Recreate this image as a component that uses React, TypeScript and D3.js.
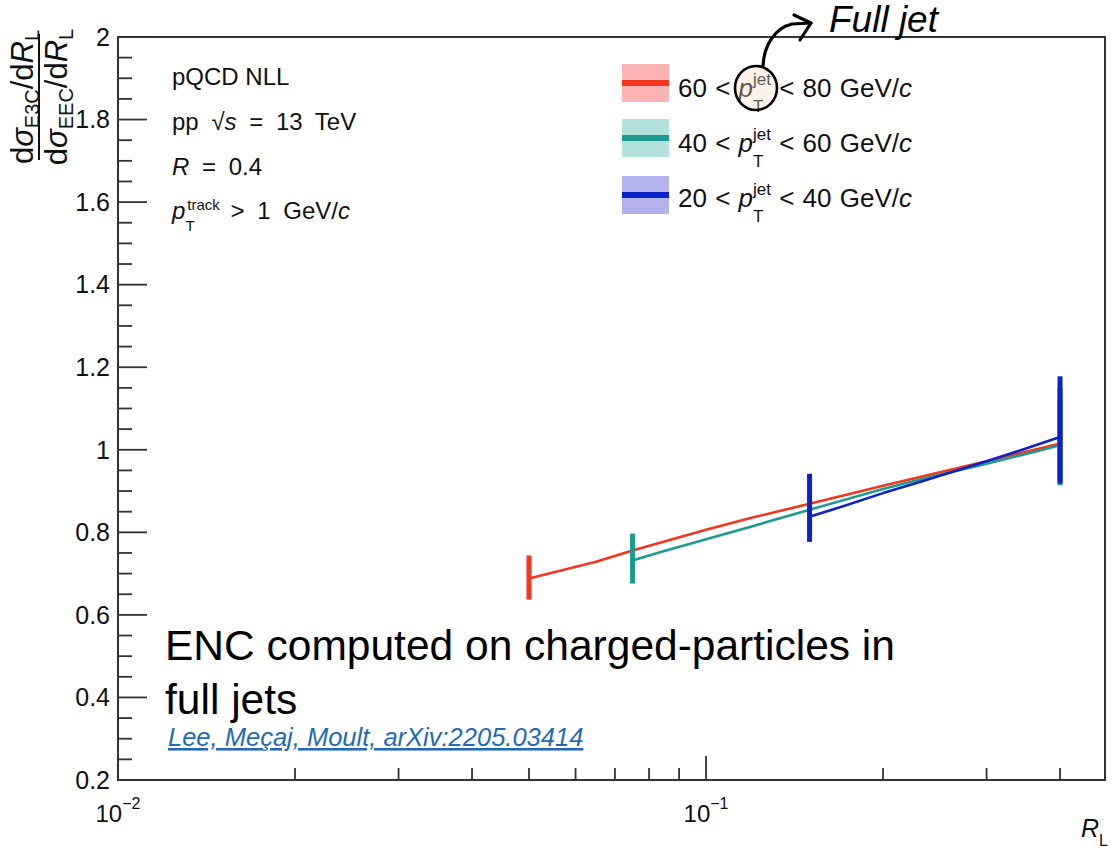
import React from "react";
import * as d3 from "d3";

// ---------- data ----------
const redR = [0.05, 0.065, 0.075, 0.0835, 0.1, 0.12, 0.15, 0.2, 0.231, 0.3, 0.35, 0.4];
const redV = [0.688, 0.729, 0.756, 0.775, 0.806, 0.836, 0.869, 0.913, 0.934, 0.972, 0.995, 1.015];

const tealR = [0.075, 0.0835, 0.1, 0.12, 0.15, 0.2, 0.231, 0.3, 0.35, 0.4];
const tealV = [0.732, 0.752, 0.783, 0.815, 0.855, 0.905, 0.928, 0.966, 0.99, 1.011];

const blueR = [0.15, 0.17, 0.2, 0.231, 0.3, 0.35, 0.4];
const blueV = [0.838, 0.862, 0.895, 0.922, 0.972, 1.003, 1.031];

// uncertainty bars at the first and last point of each curve: [low, high]
const redBars = [[0.637, 0.744], [0.925, 1.12]];
const tealBars = [[0.676, 0.797], [0.914, 1.15]];
const blueBars = [[0.777, 0.942], [0.918, 1.178]];

const legendLo = [60, 40, 20];
const legendHi = [80, 60, 40];

const yMajorLabels = ["0.2", "0.4", "0.6", "0.8", "1", "1.2", "1.4", "1.6", "1.8", "2"];
const xMajorTicks = [0.01, 0.1];
const xMajorExp = ["−2", "−1"];
const xMinorTicks = [0.02, 0.03, 0.04, 0.05, 0.06, 0.07, 0.08, 0.09, 0.2, 0.3, 0.4];

// ---------- styles ----------
const FONT = "'Liberation Sans', Arial, Helvetica, sans-serif";
const AX = "#333";
const RED = "#f3361c";
const TEAL = "#1c9a92";
const BLUE = "#0d22c6";
const RED_BAND = "#fbb3b3";
const TEAL_BAND = "#b3e1dd";
const BLUE_BAND = "#b2b2ec";

const L = 118, R = 1105, T = 37, B = 780;

export default function App() {
  const x = d3.scaleLog().domain([0.01, 0.477]).range([L, R]);
  const y = d3.scaleLinear().domain([0.2, 2]).range([B, T]);

  const yTicks = d3.range(0, 37).map((i) => ({ v: 0.2 + i * 0.05, major: i % 4 === 0 }));

  const line = d3
    .line<[number, number]>()
    .x((d) => x(d[0]))
    .y((d) => y(d[1]));

  const series = [
    { r: redR, v: redV, bars: redBars, color: RED },
    { r: tealR, v: tealV, bars: tealBars, color: TEAL },
    { r: blueR, v: blueV, bars: blueBars, color: BLUE },
  ];

  const legendColors = [
    [RED, RED_BAND],
    [TEAL, TEAL_BAND],
    [BLUE, BLUE_BAND],
  ];
  const legendTop = [64, 119, 176];
  const legendBase = [97, 152, 207];

  const yTitleCx = 97;
  const ws = { wordSpacing: "6px" }; // ROOT-like wide blanks in the info text

  return (
    <svg
      width={1115}
      height={851}
      style={{ position: "absolute", left: 0, top: 0, background: "#fff" }}
      fontFamily={FONT}
    >
      <rect x={0} y={0} width={1115} height={851} fill="#fff" />

      {/* curves */}
      {series.map((s, i) => (
        <g key={i}>
          <path
            d={line(s.r.map((r, j) => [r, s.v[j]] as [number, number])) || ""}
            fill="none"
            stroke={s.color}
            strokeWidth={2.6}
            strokeLinejoin="round"
          />
          {[s.r[0], s.r[s.r.length - 1]].map((r, k) => (
            <line
              key={k}
              x1={x(r)}
              x2={x(r)}
              y1={y(s.bars[k][0])}
              y2={y(s.bars[k][1])}
              stroke={s.color}
              strokeWidth={5}
            />
          ))}
        </g>
      ))}

      {/* frame */}
      <rect x={L} y={T} width={R - L} height={B - T} fill="none" stroke={AX} strokeWidth={2} />

      {/* y ticks */}
      {yTicks.map((t, i) => (
        <line
          key={i}
          x1={L}
          x2={L + (t.major ? 29 : 14)}
          y1={y(t.v)}
          y2={y(t.v)}
          stroke={AX}
          strokeWidth={1.8}
        />
      ))}
      {yMajorLabels.map((lab, i) => (
        <text key={i} x={110} y={y(0.2 + i * 0.2)} dy="0.35em" textAnchor="end" fontSize={25} fill="#111">
          {lab}
        </text>
      ))}

      {/* x ticks */}
      {xMajorTicks.map((t, i) => (
        <g key={i}>
          <line x1={x(t)} x2={x(t)} y1={B} y2={B - 24} stroke={AX} strokeWidth={1.8} />
          <text x={x(t)} y={822} textAnchor="middle" fontSize={24} fill="#111">
            <tspan>10</tspan>
            <tspan fontSize={16} dy={-13}>
              {xMajorExp[i]}
            </tspan>
          </text>
        </g>
      ))}
      {xMinorTicks.map((t, i) => (
        <line key={i} x1={x(t)} x2={x(t)} y1={B} y2={B - 12} stroke={AX} strokeWidth={1.8} />
      ))}

      {/* x title */}
      <text x={1108} y={837} textAnchor="end" fontSize={25} fill="#111">
        <tspan fontStyle="italic">R</tspan>
        <tspan fontSize={16} dy={9}>
          L
        </tspan>
      </text>

      {/* y title */}
      <g transform={`translate(0,${yTitleCx}) rotate(-90)`} fill="#111">
        <text x={0} y={33} textAnchor="middle" fontSize={31}>
          <tspan>d</tspan>
          <tspan fontStyle="italic">σ</tspan>
          <tspan fontSize={20} dy={6}>
            E3C
          </tspan>
          <tspan dy={-6}>/d</tspan>
          <tspan fontStyle="italic">R</tspan>
          <tspan fontSize={20} dy={6}>
            L
          </tspan>
        </text>
        <line x1={-63} x2={63} y1={39} y2={39} stroke="#111" strokeWidth={2} />
        <text x={0} y={67} textAnchor="middle" fontSize={31}>
          <tspan>d</tspan>
          <tspan fontStyle="italic">σ</tspan>
          <tspan fontSize={20} dy={6}>
            EEC
          </tspan>
          <tspan dy={-6}>/d</tspan>
          <tspan fontStyle="italic">R</tspan>
          <tspan fontSize={20} dy={6}>
            L
          </tspan>
        </text>
      </g>

      {/* info text */}
      <g fontSize={24} fill="#111">
        <text x={172} y={85}>pQCD NLL</text>
        <text x={172} y={130} style={ws}>
          <tspan>{"pp "}</tspan>
          <tspan>√</tspan>
          <tspan fontStyle="italic">s</tspan>
          <tspan>{" = 13 TeV"}</tspan>
        </text>
        <text x={172} y={175} style={ws}>
          <tspan fontStyle="italic">R</tspan>
          <tspan>{" = 0.4"}</tspan>
        </text>
        <text x={172} y={219} style={ws}>
          <tspan fontStyle="italic">p</tspan>
          <tspan fontSize={15} dx={2} dy={-9}>
            track
          </tspan>
          <tspan fontSize={15} dx={-34.5} dy={21}>
            T
          </tspan>
          <tspan dx={23.3} dy={-12}>
            {" > 1 GeV/"}
          </tspan>
          <tspan fontStyle="italic">c</tspan>
        </text>
      </g>

      {/* legend */}
      {legendLo.map((lo, i) => (
        <g key={i}>
          <rect x={622} y={legendTop[i]} width={47} height={38} fill={legendColors[i][1]} />
          <line
            x1={622}
            x2={669}
            y1={legendTop[i] + 19}
            y2={legendTop[i] + 19}
            stroke={legendColors[i][0]}
            strokeWidth={6}
          />
          <text x={678} y={legendBase[i]} fontSize={26} fill="#111" style={{ wordSpacing: "1px" }}>
            <tspan>{`${lo} < `}</tspan>
            <tspan fontStyle="italic">p</tspan>
            <tspan fontSize={17} dy={-12}>
              jet
            </tspan>
            <tspan fontSize={17} dx={-18} dy={27}>
              T
            </tspan>
            <tspan dx={7.6} dy={-15}>
              {` < ${legendHi[i]} GeV/`}
            </tspan>
            <tspan fontStyle="italic">c</tspan>
          </text>
        </g>
      ))}

      {/* hand annotation */}
      <ellipse cx={756} cy={88} rx={21} ry={22} fill="#f4d9c4" fillOpacity={0.35} stroke="#000" strokeWidth={2.6} />
      <path d="M763,66 C764,45 775,28 792,24 L811,23" fill="none" stroke="#000" strokeWidth={3.2} strokeLinecap="round" />
      <path d="M794,15 L811,23 L800,40" fill="none" stroke="#000" strokeWidth={3.2} strokeLinecap="round" strokeLinejoin="round" />
      <text x={829} y={32} fontSize={37} fontStyle="italic" fill="#000">
        Full jet
      </text>

      {/* ENC note */}
      <text x={165} y={660} fontSize={42.5} fill="#000">
        ENC computed on charged-particles in
      </text>
      <text x={165} y={714} fontSize={42.5} fill="#000">
        full jets
      </text>
      <text
        x={168}
        y={746}
        fontSize={25.5}
        fontStyle="italic"
        fill="#1f6bb8"
        style={{ textDecoration: "underline" }}
      >
        Lee, Meçaj, Moult, arXiv:2205.03414
      </text>
    </svg>
  );
}
